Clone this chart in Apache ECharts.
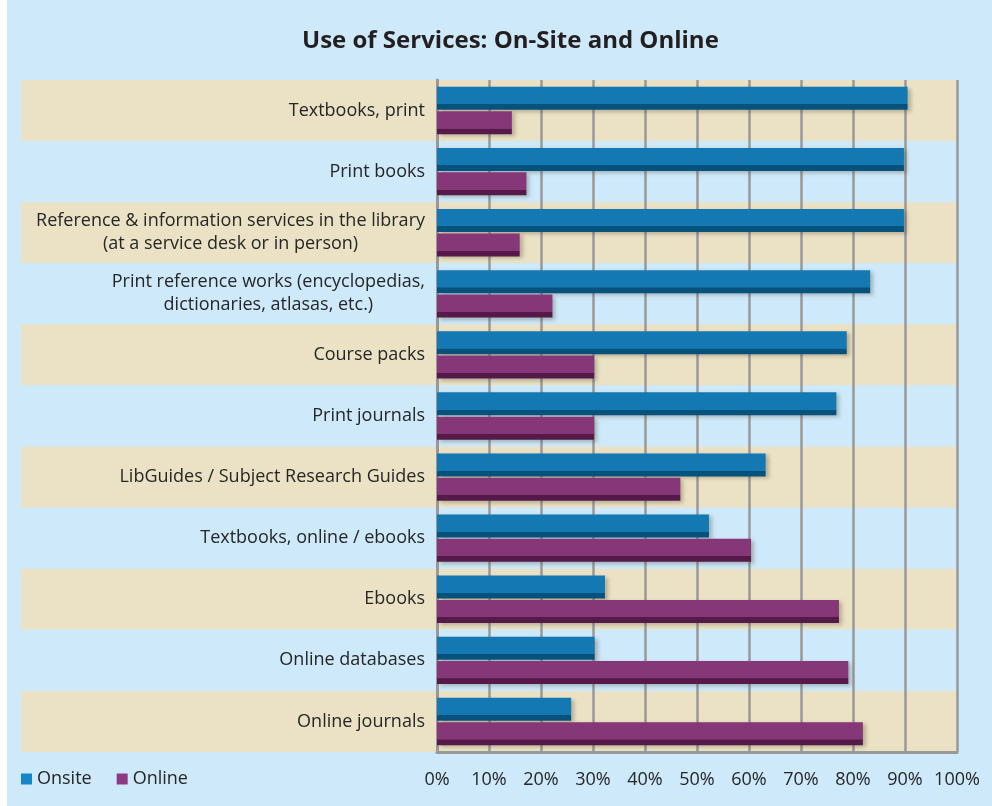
<!DOCTYPE html>
<html>
<head>
<meta charset="utf-8">
<script src="https://cdn.jsdelivr.net/npm/echarts@6/dist/echarts.min.js"></script>
<style>
  html, body { margin: 0; padding: 0; background: #fff; }
  #chart { position: absolute; left: 7px; top: 0; width: 985px; height: 806px; background: #cde9fa; }
</style>
</head>
<body>
<div id="chart"></div>
<script>
// categories, top to bottom
var categories = [
  'Textbooks, print',
  'Print books',
  'Reference & information services in the library\n(at a service desk or in person)',
  'Print reference works (encyclopedias,\ndictionaries, atlasas, etc.)',
  'Course packs',
  'Print journals',
  'LibGuides / Subject Research Guides',
  'Textbooks, online / ebooks',
  'Ebooks',
  'Online databases',
  'Online journals'
]
var onsite = [90.5, 89.8, 89.8, 83.3, 78.8, 76.8, 63.2, 52.3, 32.3, 30.3, 25.8]
var online = [14.4, 17.2, 15.9, 22.2, 30.2, 30.2, 46.8, 60.4, 77.3, 79.1, 81.9]
var seriesNames = ['Onsite', 'Online']

var font = 'Open Sans'
var textColor = '#262626'

function barColor (main, dark) {
  return new echarts.graphic.LinearGradient(0, 0, 0, 1, [
    { offset: 0, color: main },
    { offset: 0.75, color: main },
    { offset: 0.76, color: dark },
    { offset: 1, color: dark }
  ])
}

var chart = echarts.init(document.getElementById('chart'))
var option = {
  animation: false,
  title: {
    text: 'Use of Services: On-Site and Online',
    left: 290,
    top: 24,
    textStyle: { fontFamily: font, fontSize: 24, fontWeight: 'bold', color: '#231f20' }
  },
  legend: {
    left: 14,
    top: 770,
    padding: 0,
    icon: 'rect',
    itemWidth: 11,
    itemHeight: 11,
    itemGap: 25,
    textStyle: { fontFamily: font, fontSize: 18, color: textColor },
    data: [
      { name: 'Onsite', itemStyle: { color: '#1686c9' } },
      { name: 'Online', itemStyle: { color: '#8d3a80' } }
    ]
  },
  grid: [
    { left: 430, right: 35, top: 80, bottom: 54 }, // plot
    { left: 14, right: 35, top: 80, bottom: 54 }   // bands behind labels
  ],
  xAxis: [
    {
      gridIndex: 0,
      type: 'value',
      min: 0,
      max: 100,
      interval: 10,
      axisLabel: { formatter: '{value}%', fontFamily: font, fontSize: 18, color: textColor, margin: 19 },
      axisLine: { show: true, lineStyle: { color: '#999', width: 3 } },
      axisTick: { show: false },
      splitLine: { show: true, lineStyle: { color: '#999', width: 2.5 } },
      z: 2
    },
    { gridIndex: 1, type: 'value', show: false }
  ],
  yAxis: [
    {
      gridIndex: 0,
      type: 'category',
      inverse: true,
      data: categories,
      axisLine: { show: true, lineStyle: { color: '#999', width: 3 } },
      axisTick: { show: false },
      axisLabel: {
        margin: 12,
        fontFamily: font,
        fontSize: 18,
        color: textColor,
        formatter: function (v) {
          return v.split('\n').map(function (l) { return '{c|' + l + '}' }).join('\n')
        },
        rich: { c: { align: 'center', fontFamily: font, fontSize: 18, color: textColor, lineHeight: 23 } }
      },
      z: 2
    },
    {
      gridIndex: 1,
      type: 'category',
      inverse: true,
      data: categories,
      axisLine: { show: false },
      axisTick: { show: false },
      axisLabel: { show: false },
      splitArea: { show: true, areaStyle: { color: ['#ebe2c5', '#cde9fa'] } },
      z: 0
    }
  ],
  series: [
    {
      name: seriesNames[0],
      type: 'bar',
      data: onsite,
      barWidth: 23,
      barGap: '6%',
      itemStyle: {
        color: barColor('#1478b3', '#06527c'),
        shadowColor: 'rgba(60,50,30,0.3)', shadowBlur: 4, shadowOffsetX: 3, shadowOffsetY: 2
      },
      z: 3
    },
    {
      name: seriesNames[1],
      type: 'bar',
      data: online,
      barWidth: 23,
      barGap: '6%',
      itemStyle: {
        color: barColor('#853777', '#561a4a'),
        shadowColor: 'rgba(60,50,30,0.3)', shadowBlur: 4, shadowOffsetX: 3, shadowOffsetY: 2
      },
      z: 3
    }
  ]
}
chart.setOption(option)
</script>
</body>
</html>
